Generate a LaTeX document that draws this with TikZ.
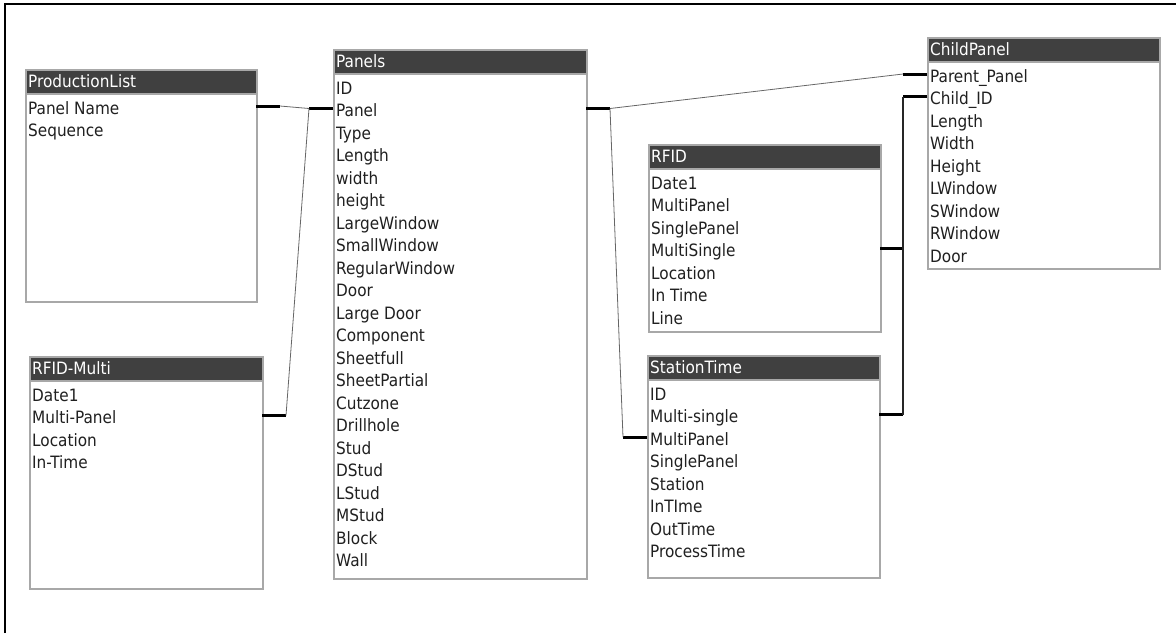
\documentclass[tikz,border=0pt]{standalone}
\usepackage{fontspec}
\setmainfont{DejaVu Sans Condensed}
\definecolor{hdr}{HTML}{404040}
\definecolor{bord}{HTML}{A8A8A8}
\definecolor{txt}{HTML}{202020}
\tikzset{
  tbody/.style={draw=bord, line width=1.5pt, fill=white, inner sep=0pt, anchor=north west},
  thead/.style={fill=hdr, draw=bord, line width=1.5pt, inner sep=0pt, anchor=north west},
  titletext/.style={text=white, inner sep=0pt, anchor=base west, font=\fontsize{17}{20}\selectfont},
  rowtext/.style={text=txt, inner sep=0pt, anchor=base west, font=\fontsize{17}{20}\selectfont},
  stub/.style={line width=3pt, black},
  link/.style={line width=0.8pt, black!60},
  vlink/.style={line width=1.2pt, black!85},
}
% #1 name, #2 x left, #3 x right, #4 y top, #5 y bottom, #6 title, #7 rows
\newcommand{\dbtable}[7]{%
  \node[tbody, minimum width={(#3-#2)*1pt}, minimum height={(#5-#4-24)*1pt}] (#1) at (#2,{#4+24}) {};
  \node[thead, minimum width={(#3-#2)*1pt}, minimum height=24pt] (#1-h) at (#2,#4) {};
  \node[titletext] (#1-t) at ({#2+3},{#4+18.5}) {#6};
  \foreach \r [count=\i] in {#7} {
    \node[rowtext] (#1-\i) at ({#2+3},{#4+45+(\i-1)*22.5}) {\r};
    \coordinate (#1-\i-L) at (#2,{#4+37+(\i-1)*22.5});
    \coordinate (#1-\i-R) at (#3,{#4+37+(\i-1)*22.5});
  }
}
\begin{document}
\begin{tikzpicture}[x=1pt,y=-1pt]
\useasboundingbox (0,0) rectangle (1176,633);
\draw[line width=2pt] (5,633) -- (5,4) -- (1176,4);

\dbtable{PL}{25}{256}{69}{301}{ProductionList}{Panel Name,Sequence}
\dbtable{P}{333}{586}{49}{578}{Panels}{ID,Panel,Type,Length,width,height,LargeWindow,SmallWindow,RegularWindow,Door,Large Door,Component,Sheetfull,SheetPartial,Cutzone,Drillhole,Stud,DStud,LStud,MStud,Block,Wall}
\dbtable{RM}{29}{262}{356}{588}{RFID-Multi}{Date1,Multi-Panel,Location,In-Time}
\dbtable{RF}{648}{880}{144}{331}{RFID}{Date1,MultiPanel,SinglePanel,MultiSingle,Location,In Time,Line}
\dbtable{ST}{647}{879}{355}{577}{StationTime}{ID,Multi-single,MultiPanel,SinglePanel,Station,InTIme,OutTime,ProcessTime}
\dbtable{CP}{927}{1159}{37}{268}{ChildPanel}{Parent\_Panel,Child\_ID,Length,Width,Height,LWindow,SWindow,RWindow,Door}

% ProductionList / RFID-Multi -> Panels
\draw[stub] (PL-1-R) -- ++(24,0) coordinate (a1);
\draw[stub] (P-2-L) -- ++(-24,0) coordinate (a2);
\draw[link] (a1) -- (a2);
\draw[stub] (RM-2-R) -- ++(24,0) coordinate (a3);
\draw[link] (a2) -- (a3);
% Panels -> ChildPanel / StationTime
\draw[stub] (P-2-R) -- ++(24,0) coordinate (b1);
\draw[stub] (CP-1-L) -- ++(-24,0) coordinate (b2);
\draw[link] (b1) -- (b2);
\draw[stub] (ST-3-L) -- ++(-24,0) coordinate (b3);
\draw[link] (b1) -- (b3);
% ChildPanel / RFID / StationTime
\draw[stub] (CP-2-L) -- ++(-24,0) coordinate (c1);
\draw[stub] (ST-2-R) -- ++(24,0) coordinate (c2);
\draw[stub] (RF-4-R) -- ++(23,0) coordinate (c3);
\draw[vlink] (c1) -- (c2);
\end{tikzpicture}
\end{document}
